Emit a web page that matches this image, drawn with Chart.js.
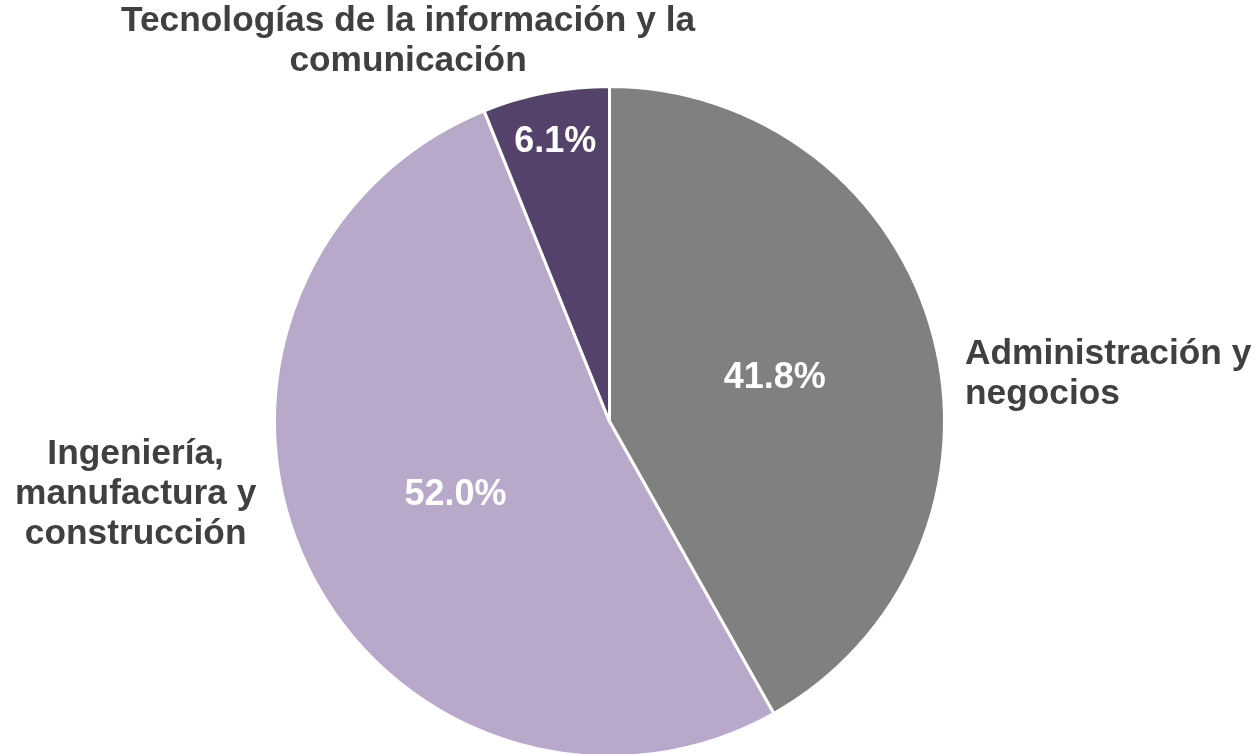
<!DOCTYPE html>
<html>
<head>
<meta charset="utf-8">
<script src="https://cdn.jsdelivr.net/npm/chart.js@4.4.0/dist/chart.umd.min.js"></script>
<style>
    html, body { margin: 0; padding: 0; background: #ffffff; overflow: hidden; }
    #wrap { width: 1260px; height: 760px; }
</style>
</head>
<body>
<div id="wrap"><canvas id="pie" width="1260" height="760"></canvas></div>
<script>
// Data.
const categories = [
    ["Administración y", "negocios"],
    ["Ingeniería,", "manufactura y", "construcción"],
    ["Tecnologías de la información y la", "comunicación"]
];
const shares = [41.8, 52.0, 6.1];
const sliceColors = ["#808080", "#b8a9cb", "#54426b"];

const FONT = "'Liberation Sans', Arial, sans-serif";

// Where each text sits, relative to its slice (style only, not data).
// pctDist: distance of the percentage from the centre, in radii.
// outer: angle (deg, 0 = right, clockwise) and distance (radii) of the category label anchor.
const labelLayout = [
    { pctDist: 0.51, outerAngle: -7.58, outerDist: 1.0705, align: "left" },
    { pctDist: 0.51, outerAngle: 171.3, outerDist: 1.431, align: "center" },
    { pctDist: 0.85, outerAngle: 242.1, outerDist: 1.285, align: "center" }
];

const sliceLabels = {
    id: 'sliceLabels',
    afterDatasetsDraw(chart) {
        const ctx = chart.ctx;
        const arcs = chart.getDatasetMeta(0).data;
        ctx.save();
        ctx.textBaseline = "middle";
        arcs.forEach((arc, i) => {
            const { x, y, startAngle, endAngle, outerRadius } = arc.getProps(['x', 'y', 'startAngle', 'endAngle', 'outerRadius'], true);
            const mid = (startAngle + endAngle) / 2;
            const lay = labelLayout[i];

            // percentage inside the slice
            const pr = outerRadius * lay.pctDist;
            ctx.font = "bold 36px " + FONT;
            ctx.fillStyle = "#ffffff";
            ctx.textAlign = "center";
            ctx.fillText(shares[i].toFixed(1) + "%", x + Math.cos(mid) * pr, y + Math.sin(mid) * pr);

            // category name outside
            const a = lay.outerAngle * Math.PI / 180;
            const ax = x + Math.cos(a) * outerRadius * lay.outerDist;
            const ay = y + Math.sin(a) * outerRadius * lay.outerDist;
            const lines = categories[i];
            const lh = 40;
            ctx.font = "bold 35.3px " + FONT;
            ctx.fillStyle = "#404040";
            ctx.textAlign = lay.align;
            lines.forEach((line, k) => {
                ctx.fillText(line, ax, ay + (k - (lines.length - 1) / 2) * lh);
            });
        });
        ctx.restore();
    }
};

new Chart(document.getElementById("pie").getContext("2d"), {
    type: 'pie',
    data: {
        labels: categories.map(c => c.join(" ")),
        datasets: [{
            data: shares,
            backgroundColor: sliceColors,
            borderColor: "#ffffff",
            borderWidth: 3,
            hoverOffset: 0
        }]
    },
    options: {
        responsive: false,
        animation: false,
        events: [],
        layout: {
            padding: { left: 273, right: 314, top: 85, bottom: 2 }
        },
        plugins: {
            legend: { display: false },
            tooltip: { enabled: false }
        }
    },
    plugins: [sliceLabels]
});
</script>
</body>
</html>
